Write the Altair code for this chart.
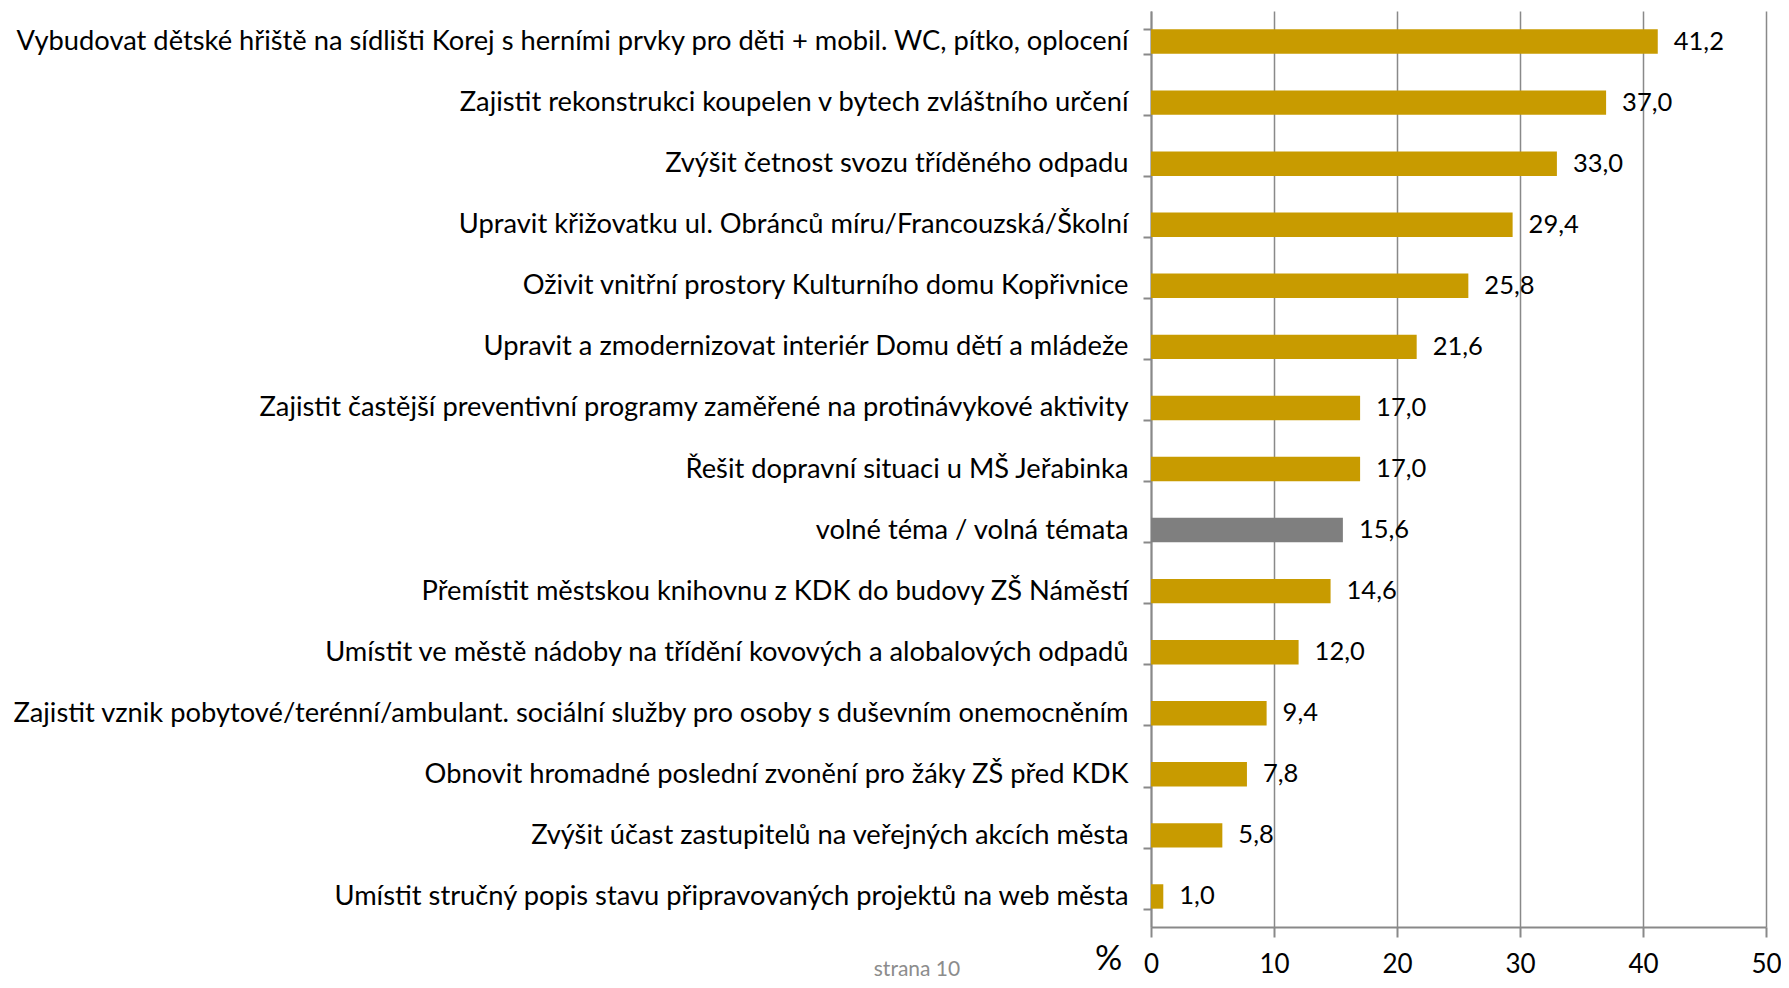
import altair as alt
import pandas as pd

categories = [
    "Vybudovat dětské hřiště na sídlišti Korej s herními prvky pro děti + mobil. WC, pítko, oplocení",
    "Zajistit rekonstrukci koupelen v bytech zvláštního určení",
    "Zvýšit četnost svozu tříděného odpadu",
    "Upravit křižovatku ul. Obránců míru/Francouzská/Školní",
    "Oživit vnitřní prostory Kulturního domu Kopřivnice ",
    "Upravit a zmodernizovat interiér Domu dětí a mládeže",
    "Zajistit častější preventivní programy zaměřené na protinávykové aktivity ",
    "Řešit dopravní situaci u MŠ Jeřabinka",
    "volné téma / volná témata",
    "Přemístit městskou knihovnu z KDK do budovy ZŠ Náměstí",
    "Umístit ve městě nádoby na třídění kovových a alobalových odpadů",
    "Zajistit vznik pobytové/terénní/ambulant. sociální služby pro osoby s duševním onemocněním",
    "Obnovit hromadné poslední zvonění pro žáky ZŠ před KDK",
    "Zvýšit účast zastupitelů na veřejných akcích města",
    "Umístit stručný popis stavu připravovaných projektů na web města",
]
values = [41.2, 37.0, 33.0, 29.4, 25.8, 21.6, 17.0, 17.0, 15.6, 14.6, 12.0, 9.4, 7.8, 5.8, 1.0]
groups = ["návrh"] * 8 + ["volné"] + ["návrh"] * 6
x_ticks = [0, 10, 20, 30, 40, 50]
footer = ["strana 10"]

df = pd.DataFrame({
    "kategorie": categories,
    "hodnota": values,
    "skupina": groups,
    "popisek": [f"{v:.1f}".replace(".", ",") for v in values],
})

FONT = "Lato"
GRAY = "#898989"
FS = 27.3

y_enc = alt.Y(
    "kategorie:N",
    sort=categories,
    scale=alt.Scale(paddingInner=0.6, paddingOuter=0.3),
    axis=alt.Axis(
        title=None,
        tickBand="extent",
        tickSize=8,
        tickColor=GRAY,
        tickWidth=2,
        domainColor=GRAY,
        domainWidth=2,
        labelPadding=15,
        labelFontSize=FS,
        labelFont=FONT,
        labelColor="#000000",
        labelLimit=1300,
        grid=False,
    ),
)

x_enc = alt.X(
    "hodnota:Q",
    scale=alt.Scale(domain=[0, 50], nice=False, zero=True),
    axis=alt.Axis(
        values=x_ticks,
        title="%",
        titleFont=FONT,
        titleFontSize=34,
        titleFontWeight="normal",
        titleColor="#000000",
        titleAnchor="start",
        titleAlign="center",
        titleBaseline="alphabetic",
        titleX=-43,
        titleY=42,
        grid=True,
        gridColor=GRAY,
        gridWidth=1.5,
        domainColor=GRAY,
        domainWidth=2,
        tickColor=GRAY,
        tickWidth=2,
        tickSize=10,
        labelFont=FONT,
        labelFontSize=26,
        labelColor="#000000",
        labelPadding=14,
        labelFlush=False,
    ),
)

bars = alt.Chart(df).mark_bar().encode(
    y=y_enc,
    x=x_enc,
    color=alt.Color(
        "skupina:N",
        scale=alt.Scale(domain=["návrh", "volné"], range=["#C89B00", "#7F7F7F"]),
        legend=None,
    ),
)

labels = alt.Chart(df).mark_text(
    align="left", baseline="middle", dx=16, font=FONT, fontSize=25.5, color="#000000"
).encode(
    y=alt.Y("kategorie:N", sort=categories),
    x=alt.X("hodnota:Q"),
    text="popisek:N",
)

foot = alt.Chart(pd.DataFrame({"t": footer})).mark_text(
    align="center", baseline="alphabetic", font=FONT, fontSize=21, color="#8C8C8C"
).encode(
    x=alt.value(-234),
    y=alt.value(965),
    text="t:N",
)

chart = alt.layer(bars, labels, foot).properties(
    width=615,
    height=916,
    autosize=alt.AutoSizeParams(type="none"),
    padding={"left": 1143, "top": 3, "right": 15, "bottom": 53},
).configure_view(stroke=None)

chart.save("out.html", embed_options={"renderer": "svg", "actions": False})
